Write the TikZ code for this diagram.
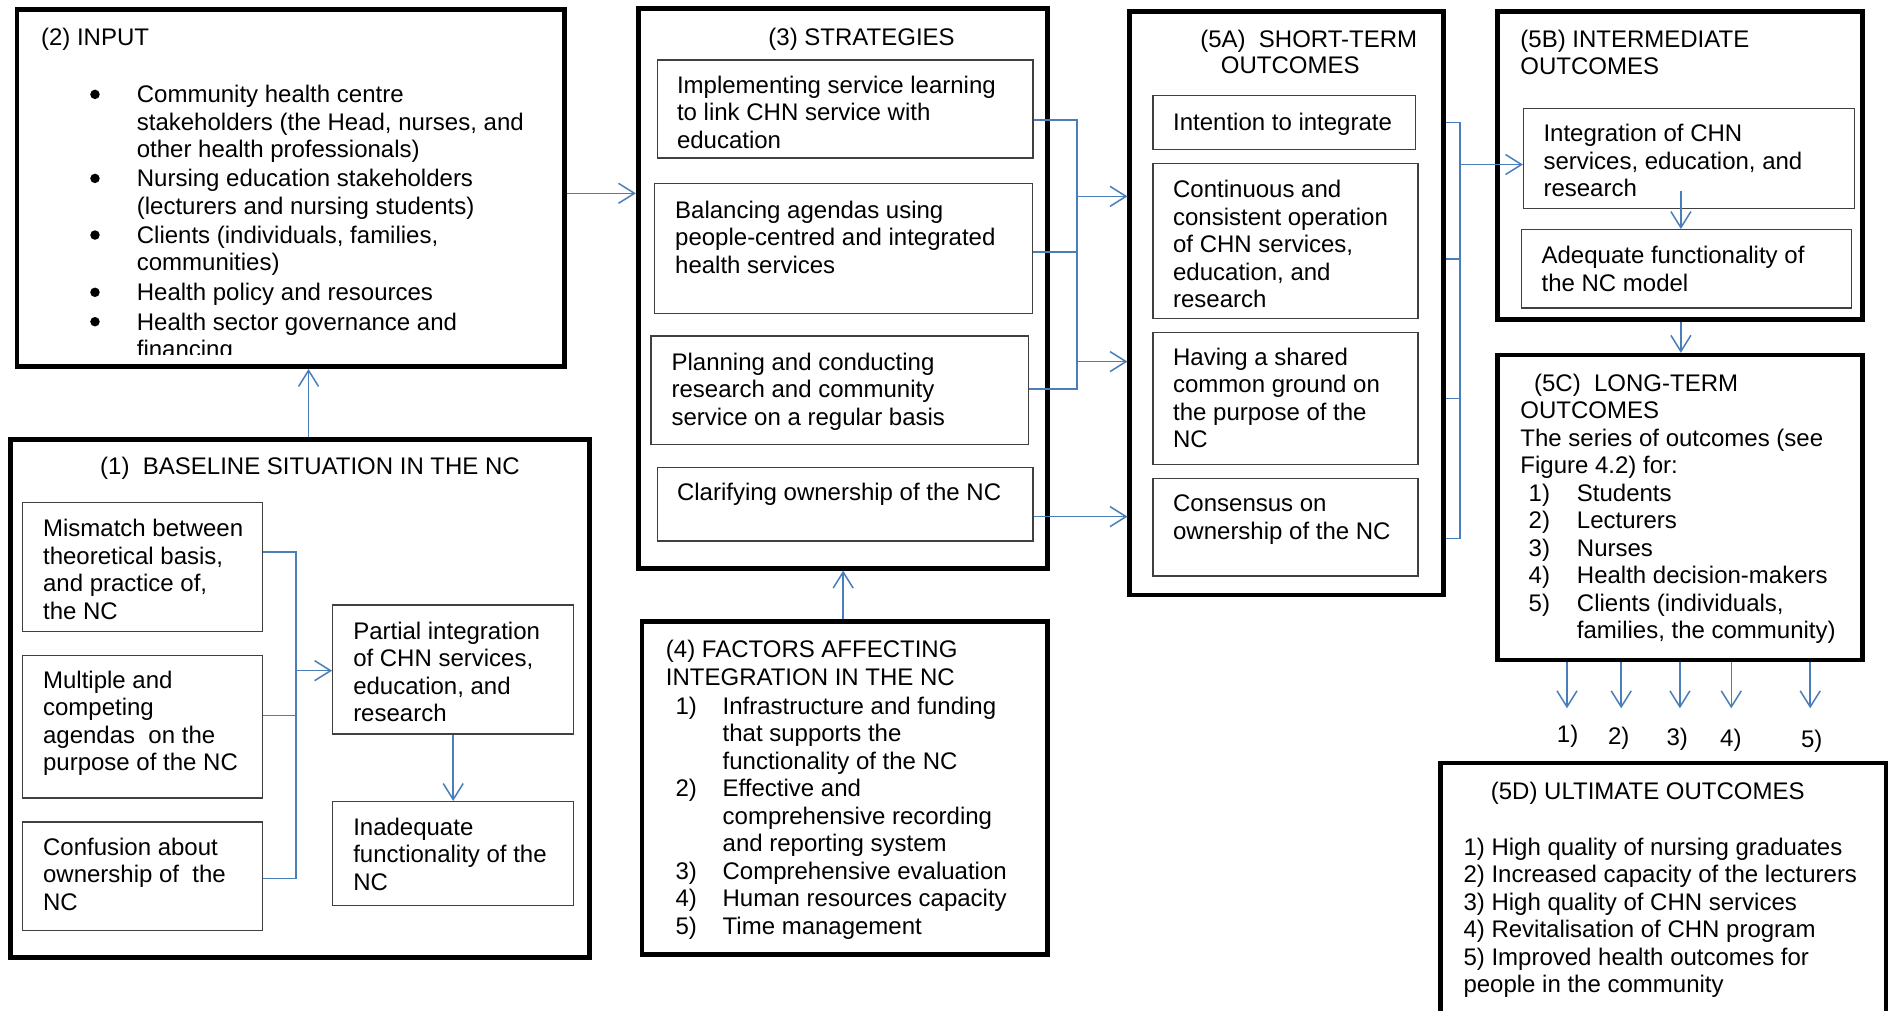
\documentclass[tikz,border=0pt]{standalone}
\usepackage{fontspec}
\setmainfont{Liberation Sans}
\usetikzlibrary{arrows.meta,fit}
\definecolor{lineblue}{HTML}{4A7EBB}
\definecolor{boxgray}{HTML}{404040}
% multi-line text block, baseline on the first line
\newcommand{\ml}[1]{\begin{tabular}[t]{@{}l@{}}#1\end{tabular}}
% numbered list: number column + text column
\newcommand{\nl}[1]{\begin{tabular}[t]{@{}l@{}l@{}}#1\end{tabular}}
\newcommand{\nm}[2]{\makebox[#1][l]{#2}}
\begin{document}
\begin{tikzpicture}[x=1.2054pt,y=-1.2054pt,
  outerbox/.style={draw=black,line width=4.7pt,inner sep=0pt},
  inbox/.style={draw=boxgray,line width=1.3pt,inner sep=0pt},
  txt/.style={inner sep=0pt,anchor=base west,font=\fontsize{24pt}{27.5pt}\selectfont},
  ctxt/.style={txt,anchor=base},
  bullet/.style={circle,fill=black,inner sep=0pt,minimum size=9.5pt},
  conn/.style={draw=lineblue,line width=1.5pt},
  arr/.style={conn,-{Straight Barb[length=16pt,width=20pt]}}]

\fill[white] (0,0) rectangle (1568,838);
\useasboundingbox (0,0) rectangle (1568,838);
\clip (0,0) rectangle (1568,838);

% ---------- (2) INPUT ----------
\node[outerbox, fit={(14.2,7.7) (468.3,304.2)}] (inp) {};
\node[txt] (inpT) at (33.9,37.4) {(2) INPUT};
\begin{scope}
  \clip (16,9) rectangle (466,294.5);
  \node[txt] (ib1) at (113.4,85.3) {\ml{Community health centre\\stakeholders (the Head, nurses, and\\other health professionals)}};
  \node[txt] (ib2) at (113.4,155) {\ml{Nursing education stakeholders\\(lecturers and nursing students)}};
  \node[txt] (ib3) at (113.4,202) {\ml{Clients (individuals, families,\\communities)}};
  \node[txt] (ib4) at (113.4,249.5) {Health policy and resources};
  \node[txt] (ib5) at (113.4,273.9) {\ml{Health sector governance and\\financing}};
\end{scope}
\node[bullet] (bu1) at (78.8,78.3) {};
\node[bullet] (bu2) at (78.8,148) {};
\node[bullet] (bu3) at (78.8,195) {};
\node[bullet] (bu4) at (78.8,242.5) {};
\node[bullet] (bu5) at (78.8,266.9) {};

% ---------- (1) BASELINE ----------
\node[outerbox, fit={(8.5,364.7) (489.3,794.3)}] (bl) {};
\node[txt] (blT) at (83,393.9) {(1)~~BASELINE SITUATION IN THE NC};
\node[inbox, fit={(18.6,417) (218,524)}] (mm) {};
\node[inbox, fit={(18.6,544) (218,662)}] (mc) {};
\node[inbox, fit={(18.6,682) (218,772)}] (cf) {};
\node[inbox, fit={(276,502) (476,609)}] (pi) {};
\node[inbox, fit={(276,665) (476,751)}] (ia) {};
\node[txt] (mmT) at (35.6,445.2) {\ml{Mismatch between\\theoretical basis,\\and practice of,\\the NC}};
\node[txt] (mcT) at (35.6,571.1) {\ml{Multiple and\\competing\\agendas~~on the\\purpose of the NC}};
\node[txt] (cfT) at (35.6,709.5) {\ml{Confusion about\\ownership of~~the\\NC}};
\node[txt] (piT) at (292.9,530.2) {\ml{Partial integration\\of CHN services,\\education, and\\research}};
\node[txt] (iaT) at (292.9,693) {\ml{Inadequate\\functionality of the\\NC}};

% ---------- (3) STRATEGIES ----------
\node[outerbox, fit={(529.5,7) (869,471.5)}] (st) {};
\node[ctxt] (stT) at (714.8,37.8) {(3) STRATEGIES};
\node[inbox, fit={(545.2,49.8) (856.9,131.1)}] (s1) {};
\node[inbox, fit={(543.1,152.4) (856.3,260.3)}] (s2) {};
\node[inbox, fit={(540.2,278.8) (853.3,368.9)}] (s3) {};
\node[inbox, fit={(545.2,388) (856.9,448.9)}] (s4) {};
\node[txt] (s1T) at (561.5,77.5) {\ml{Implementing service learning\\to link CHN service with\\education}};
\node[txt] (s2T) at (560,181) {\ml{Balancing agendas using\\people-centred and integrated\\health services}};
\node[txt] (s3T) at (557,307) {\ml{Planning and conducting\\research and community\\service on a regular basis}};
\node[txt] (s4T) at (561.5,415) {Clarifying ownership of the NC};

% ---------- (4) FACTORS ----------
\node[outerbox, fit={(532.7,515.7) (869,792)}] (fa) {};
\node[txt] (faT) at (552.3,545.7) {\ml{(4) FACTORS AFFECTING\\INTEGRATION IN THE NC}};
\node[txt] (faL) at (560.3,592.4) {\nl{\nm{47.1pt}{1)} & Infrastructure and funding\\
  & that supports the\\
  & functionality of the NC\\
  \nm{47.1pt}{2)} & Effective and\\
  & comprehensive recording\\
  & and reporting system\\
  \nm{47.1pt}{3)} & Comprehensive evaluation\\
  \nm{47.1pt}{4)} & Human resources capacity\\
  \nm{47.1pt}{5)} & Time management}};

% ---------- (5A) SHORT-TERM ----------
\node[outerbox, fit={(937.3,9.5) (1197.3,493.7)}] (a5) {};
\node[txt] (a5T1) at (995.6,39.4) {(5A)~~SHORT-TERM};
\node[txt] (a5T2) at (1012.7,61) {OUTCOMES};
\node[inbox, fit={(956.5,79.4) (1174.5,123.8)}] (a1) {};
\node[inbox, fit={(956.5,135.9) (1176.5,264.5)}] (a2) {};
\node[inbox, fit={(956.5,275.6) (1176.5,385.1)}] (a3) {};
\node[inbox, fit={(956.5,396.9) (1176.5,477.8)}] (a4) {};
\node[txt] (a1T) at (973.1,108) {Intention to integrate};
\node[txt] (a2T) at (973.1,164.1) {\ml{Continuous and\\consistent operation\\of CHN services,\\education, and\\research}};
\node[txt] (a3T) at (973.1,303.2) {\ml{Having a shared\\common ground on\\the purpose of the\\NC}};
\node[txt] (a4T) at (973.1,424.5) {\ml{Consensus on\\ownership of the NC}};

% ---------- (5B) INTERMEDIATE ----------
\node[outerbox, fit={(1242.1,9.5) (1545.2,265.1)}] (b5) {};
\node[txt] (b5T) at (1261.2,39.4) {\ml{(5B) INTERMEDIATE\\OUTCOMES}};
\node[inbox, fit={(1264,89.9) (1538.3,173)}] (b1) {};
\node[inbox, fit={(1262.5,190.5) (1536.3,255.6)}] (b2) {};
\node[txt] (b1T) at (1280.4,117.5) {\ml{Integration of CHN\\services, education, and\\research}};
\node[txt] (b2T) at (1278.8,218.8) {\ml{Adequate functionality of\\the NC model}};

% ---------- (5C) LONG-TERM ----------
\node[outerbox, fit={(1242.1,294.6) (1545.2,547.5)}] (c5) {};
\node[txt] (c5T1) at (1272.6,324.5) {(5C)~~LONG-TERM};
\node[txt] (c5T2) at (1261.2,347.3) {\ml{OUTCOMES\\The series of outcomes (see\\Figure 4.2) for:}};
\node[txt] (c5L) at (1268.1,416) {\nl{\nm{48.2pt}{1)} & Students\\
  \nm{48.2pt}{2)} & Lecturers\\
  \nm{48.2pt}{3)} & Nurses\\
  \nm{48.2pt}{4)} & Health decision-makers\\
  \nm{48.2pt}{5)} & Clients (individuals,\\
  & families, the community)}};

% numbered outcome labels
\node[ctxt] (l1) at (1300.5,616) {1)};
\node[ctxt] (l2) at (1343,617.3) {2)};
\node[ctxt] (l3) at (1391.5,618.5) {3)};
\node[ctxt] (l4) at (1436,619.5) {4)};
\node[ctxt] (l5) at (1503,620.5) {5)};

% ---------- (5D) ULTIMATE ----------
\node[outerbox, fit={(1195,633) (1564.6,870)}] (d5) {};
\node[txt] (d5T) at (1236.7,663) {(5D) ULTIMATE OUTCOMES};
\node[txt] (d5L) at (1214,709.4) {\ml{1) High quality of nursing graduates\\2) Increased capacity of the lecturers\\3) High quality of CHN services\\4) Revitalisation of CHN program\\5) Improved health outcomes for\\people in the community}};

% ---------- connectors ----------
% baseline -> input, input -> strategies, factors -> strategies
\coordinate (xbi) at (256,0);
\draw[arr] (bl.north -| xbi) -- (inp.south -| xbi);
\coordinate (yis) at (0,160.4);
\draw[arr] (inp.east |- yis) -- (st.west |- yis);
\coordinate (xfs) at (699.5,0);
\draw[arr] (fa.north -| xfs) -- (st.south -| xfs);

% inside baseline
\coordinate (bv1) at (245.5,457.8);
\coordinate (bv2) at (245.5,593.7);
\coordinate (bv3) at (245.5,728.9);
\coordinate (bva) at (245.5,556.4);
\draw[conn] (mm.east |- bv1) -- (bv1) -- (bv3) -- (cf.east |- bv3);
\draw[conn] (mc.east |- bv2) -- (bv2);
\draw[arr] (bva) -- (pi.west |- bva);
\draw[arr] (pi.south) -- (ia.north);

% strategies -> short-term outcomes
\coordinate (sv1) at (893.3,99.4);
\coordinate (sv2) at (893.3,208.9);
\coordinate (sv3) at (893.3,322.9);
\coordinate (sa1) at (893.3,162.9);
\coordinate (sa2) at (893.3,300);
\coordinate (ys4) at (0,428.6);
\draw[conn] (s1.east |- sv1) -- (sv1) -- (sv3) -- (s3.east |- sv3);
\draw[conn] (s2.east |- sv2) -- (sv2);
\draw[arr] (sa1) -- (a5.west |- sa1);
\draw[arr] (sa2) -- (a5.west |- sa2);
\draw[arr] (s4.east |- ys4) -- (a5.west |- ys4);

% short-term -> intermediate
\coordinate (av1) at (1211.1,101.6);
\coordinate (av2) at (1211.1,215);
\coordinate (av3) at (1211.1,330.8);
\coordinate (av4) at (1211.1,446.7);
\coordinate (aa) at (1211.1,136.5);
\draw[conn] (a5.east |- av1) -- (av1) -- (av4) -- (a5.east |- av4);
\draw[conn] (a5.east |- av2) -- (av2);
\draw[conn] (a5.east |- av3) -- (av3);
\draw[arr] (aa) -- (b1.west |- aa);

% intermediate -> long-term
\coordinate (bx) at (1394.5,158.1);
\draw[arr] (bx) -- (b2.north -| bx);
\draw[arr] (b5.south -| bx) -- (c5.north -| bx);

% long-term -> numbered outcomes
\coordinate (e1) at (1300,587.6);
\coordinate (e2) at (1345,587.6);
\coordinate (e3) at (1393.7,587.6);
\coordinate (e4) at (1436.3,587.6);
\coordinate (e5) at (1501.8,587.6);
\foreach \e in {e1,e2,e3,e4,e5}
  \draw[arr] (c5.south -| \e) -- (\e);
\end{tikzpicture}
\end{document}
